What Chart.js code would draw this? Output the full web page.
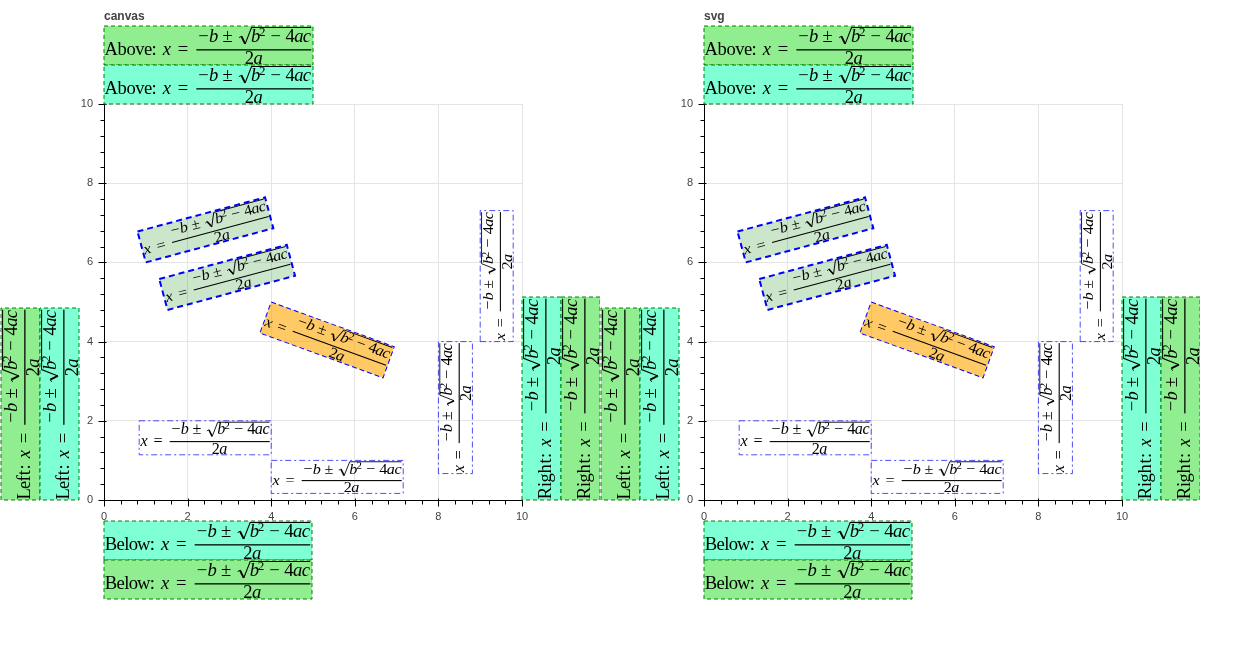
<!DOCTYPE html>
<html><head><meta charset="utf-8">
<script src="https://cdn.jsdelivr.net/npm/chart.js@4/dist/chart.umd.min.js"></script>
<style>
html,body{margin:0;padding:0;background:#fff;}
body{width:1250px;height:650px;overflow:hidden;position:relative;}
.panel{position:absolute;top:0;width:600px;height:650px;}
</style></head>
<body>
<div class="panel" style="left:0"><canvas id="c0" width="600" height="650"></canvas></div>
<div class="panel" style="left:600px"><canvas id="c1" width="600" height="650"></canvas></div>
<script>
// ---- data ----
const panelTitles = ['canvas', 'svg'];
const labelX = [1.0, 1.52, 4.0, 4.0, 4.0, 8.0, 9.0];
const labelY = [6.0, 4.8, 5.0, 2.0, 1.0, 4.0, 4.0];
const labelAngle = [15, 15, -20, 0, 0, 90, 90];
const axisMin = 0, axisMax = 10;
const minorStep = 0.4;
const majorStep = 2;
const sidePrefixes = { above: 'Above: ', below: 'Below: ', left: 'Left: ', right: 'Right: ' };

// ---- styles ----
const THIN = 'rgba(0,0,255,0.7)';
const labelStyles = [
  {anchor:'bl', w:132, h:32, fill:'rgba(0,128,0,0.2)', stroke:'#0000ff', lw:2, dash:[6,4]},
  {anchor:'bl', w:132, h:32, fill:'rgba(0,128,0,0.2)', stroke:'#0000ff', lw:2, dash:[6,4]},
  {anchor:'tl', w:131, h:33, fill:'rgba(255,165,0,0.6)', stroke:'#0000ff', lw:1, dash:[5,3]},
  {anchor:'tr', w:132, h:34, fill:null, stroke:THIN, lw:1, dash:[6,3,2,3]},
  {anchor:'tl', w:132, h:33, fill:null, stroke:THIN, lw:1, dash:[6,3,2,3]},
  {anchor:'tr', w:132, h:34, fill:null, stroke:THIN, lw:1, dash:[6,3,2,3]},
  {anchor:'tl', w:131, h:33, fill:null, stroke:THIN, lw:1, dash:[6,3,2,3]}
];
const SIDE_W = { above: 209, below: 208, left: 192, right: 203 };
const SIDE_H = 39;
const AQUA = '#7fffd4', LGREEN = '#90ee90', SIDE_STROKE = '#008000';

// ---- tex-like formula drawing ----
const SERIF = '"Liberation Serif","Times New Roman",serif';
const F = 14.56, H0 = 34, GF = F * 1.1;
const OL = 1.4, NB = 13.6, BAR = 20.8, DB = 32.8, PB = 25.6, SUPB = 8.6;
const CMW = {A:.75,b:.556,o:.5,v:.528,e:.444,':':.278,' ':.333,L:.625,f:.306,t:.389,R:.736,i:.278,g:.5,h:.556,B:.708,l:.278,w:.722};

function texLayout(prefix) {
  const runs = [];
  let x = 0.05 * F;
  const push = (ch, style, adv, y) => { runs.push({ch, style, x, adv: adv * F, y}); x += adv * F; };
  for (const ch of prefix) push(ch, 'r', CMW[ch] !== undefined ? CMW[ch] : 0.5, PB);
  push('x', 'i', 0.572, PB); x += 0.278 * F; push('=', 'r', 0.778, PB); x += 0.278 * F;
  x += 0.12 * F;
  const barStart = x; x += 0.04 * F;
  push('\u2212', 'r', 0.778, NB); push('b', 'i', 0.429, NB);
  x += 0.222 * F; push('\u00b1', 'r', 0.778, NB); x += 0.222 * F;
  const surdX = x; x += 0.833 * F;
  push('b', 'i', 0.429, NB); push('2', 's', 0.354, SUPB);
  x += 0.222 * F; push('\u2212', 'r', 0.778, NB); x += 0.222 * F;
  push('4', 'r', 0.5, NB); push('a', 'i', 0.529, NB); push('c', 'i', 0.433, NB);
  const numEnd = x;
  const barEnd = x + 0.04 * F;
  const denW = 1.029 * F;
  const dc = (barStart + barEnd) / 2 - denW / 2;
  runs.push({ch:'2', style:'r', x: dc, adv: 0.5 * F, y: DB});
  runs.push({ch:'a', style:'i', x: dc + 0.5 * F, adv: 0.529 * F, y: DB});
  return {runs, barStart, barEnd, surdX, numEnd, total: barEnd + 0.1 * F};
}

function drawTex(ctx, prefix, W, H) {
  const L = texLayout(prefix);
  ctx.save();
  ctx.scale(W / L.total, H / H0);
  ctx.fillStyle = '#000';
  ctx.textAlign = 'center';
  ctx.textBaseline = 'alphabetic';
  for (const r of L.runs) {
    if (r.style === 'i') ctx.font = 'italic ' + GF + 'px ' + SERIF;
    else if (r.style === 's') ctx.font = (GF * 0.7) + 'px ' + SERIF;
    else ctx.font = GF + 'px ' + SERIF;
    ctx.fillText(r.ch, r.x + r.adv / 2, r.y);
  }
  // fraction bar
  ctx.fillRect(L.barStart, BAR - 0.55, L.barEnd - L.barStart, 1.1);
  // radical
  const s = L.surdX;
  ctx.strokeStyle = '#000';
  ctx.lineJoin = 'miter';
  ctx.beginPath();
  ctx.lineWidth = 0.8;
  ctx.moveTo(s + 0.06 * F, NB - 0.24 * F);
  ctx.lineTo(s + 0.2 * F, NB - 0.32 * F);
  ctx.stroke();
  ctx.beginPath();
  ctx.lineWidth = 1.6;
  ctx.moveTo(s + 0.2 * F, NB - 0.32 * F);
  ctx.lineTo(s + 0.42 * F, NB + 0.14 * F);
  ctx.stroke();
  ctx.beginPath();
  ctx.lineWidth = 0.9;
  ctx.moveTo(s + 0.42 * F, NB + 0.14 * F);
  ctx.lineTo(s + 0.8 * F, OL);
  ctx.lineTo(L.numEnd + 0.03 * F, OL);
  ctx.stroke();
  ctx.restore();
}

function drawBox(ctx, px, py, angleDeg, anchor, W, H, st, prefix) {
  ctx.save();
  ctx.translate(px, py);
  ctx.rotate(-angleDeg * Math.PI / 180);
  const ax = anchor.indexOf('r') >= 0 ? W : 0;
  const ay = anchor.indexOf('b') >= 0 ? H : 0;
  ctx.translate(-ax, -ay);
  if (st.fill) { ctx.fillStyle = st.fill; ctx.fillRect(0, 0, W, H); }
  ctx.save();
  ctx.beginPath(); ctx.rect(0, 0, W, H); ctx.clip();
  drawTex(ctx, prefix, W, H);
  ctx.restore();
  ctx.strokeStyle = st.stroke; ctx.lineWidth = st.lw; ctx.setLineDash(st.dash);
  ctx.strokeRect(0, 0, W, H);
  ctx.restore();
}

function isMajor(v) { return Math.abs(v / majorStep - Math.round(v / majorStep)) < 1e-6; }

function drawAxisTicks(chart) {
  const ctx = chart.ctx;
  const {left, bottom} = chart.chartArea;
  const bx = Math.round(left) + 0.5, by = Math.round(bottom) + 0.5;
  ctx.save();
  ctx.strokeStyle = '#000'; ctx.lineWidth = 1; ctx.setLineDash([]);
  chart.scales.x.ticks.forEach(t => {
    const p = Math.round(chart.scales.x.getPixelForValue(t.value)) + 0.5;
    const m = isMajor(t.value);
    ctx.beginPath(); ctx.moveTo(p, by - (m ? 2 : 0)); ctx.lineTo(p, by + (m ? 6 : 4)); ctx.stroke();
  });
  chart.scales.y.ticks.forEach(t => {
    const p = Math.round(chart.scales.y.getPixelForValue(t.value)) + 0.5;
    const m = isMajor(t.value);
    ctx.beginPath(); ctx.moveTo(bx + (m ? 2 : 0), p); ctx.lineTo(bx - (m ? 6 : 4), p); ctx.stroke();
  });
  ctx.restore();
}

function drawSides(chart) {
  const ctx = chart.ctx;
  const {left, right, top, bottom} = chart.chartArea;
  const sideStyle = fill => ({fill, stroke: SIDE_STROKE, lw: 1, dash: [4, 3]});
  const H = SIDE_H;
  drawBox(ctx, left, top - 2 * H, 0, 'tl', SIDE_W.above, H, sideStyle(LGREEN), sidePrefixes.above);
  drawBox(ctx, left, top - H, 0, 'tl', SIDE_W.above, H, sideStyle(AQUA), sidePrefixes.above);
  const bTop = bottom + 21;
  drawBox(ctx, left, bTop, 0, 'tl', SIDE_W.below, H, sideStyle(AQUA), sidePrefixes.below);
  drawBox(ctx, left, bTop + H, 0, 'tl', SIDE_W.below, H, sideStyle(LGREEN), sidePrefixes.below);
  const lIn = left - 25 - H;
  drawBox(ctx, lIn - H, bottom, 90, 'tl', SIDE_W.left, H, sideStyle(LGREEN), sidePrefixes.left);
  drawBox(ctx, lIn, bottom, 90, 'tl', SIDE_W.left, H, sideStyle(AQUA), sidePrefixes.left);
  drawBox(ctx, right, bottom, 90, 'tl', SIDE_W.right, H, sideStyle(AQUA), sidePrefixes.right);
  drawBox(ctx, right + H, bottom, 90, 'tl', SIDE_W.right, H, sideStyle(LGREEN), sidePrefixes.right);
}

const texPlugin = {
  id: 'texLabels',
  afterDatasetsDraw(chart) {
    const ctx = chart.ctx;
    const meta = chart.getDatasetMeta(0);
    meta.data.forEach((pt, i) => {
      const st = labelStyles[i];
      drawBox(ctx, pt.x, pt.y, labelAngle[i], st.anchor, st.w, st.h, st, '');
    });
  },
  afterDraw(chart) {
    drawAxisTicks(chart);
    drawSides(chart);
    const ctx = chart.ctx;
    ctx.save();
    ctx.font = 'bold 12px "Liberation Sans", Arial, sans-serif';
    ctx.fillStyle = '#444';
    ctx.textAlign = 'left'; ctx.textBaseline = 'alphabetic';
    ctx.fillText(chart.options.plugins.panelTitle.text, chart.chartArea.left, 20);
    ctx.restore();
  }
};

function axisOpts(isX) {
  return {
    type: 'linear', min: axisMin, max: axisMax,
    afterFit: s => { if (isX) s.height = 21; else s.width = 25; },
    ticks: {
      stepSize: minorStep, maxTicksLimit: 100, autoSkip: false, maxRotation: 0, minRotation: 0,
      padding: isX ? 10 : 11, color: '#444',
      font: {family: '"Liberation Sans", Arial, sans-serif', size: 11},
      callback: v => isMajor(v) ? String(Math.round(v)) : ''
    },
    grid: {
      drawTicks: false, lineWidth: 1,
      color: c => (c.tick && isMajor(c.tick.value)) ? '#e5e5e5' : 'rgba(0,0,0,0)'
    },
    border: {display: true, color: '#000', width: 1}
  };
}

function makeChart(id, title) {
  return new Chart(document.getElementById(id), {
    type: 'scatter',
    data: { datasets: [{ data: labelX.map((x, i) => ({x, y: labelY[i]})), pointRadius: 0, pointHoverRadius: 0 }] },
    options: {
      responsive: false, animation: false, events: [],
      layout: { padding: { left: 79, right: 78, top: 104, bottom: 129 } },
      plugins: { legend: {display: false}, tooltip: {enabled: false}, panelTitle: {text: title} },
      scales: { x: axisOpts(true), y: axisOpts(false) }
    },
    plugins: [texPlugin]
  });
}
panelTitles.forEach((t, i) => makeChart('c' + i, t));
</script>
</body></html>
